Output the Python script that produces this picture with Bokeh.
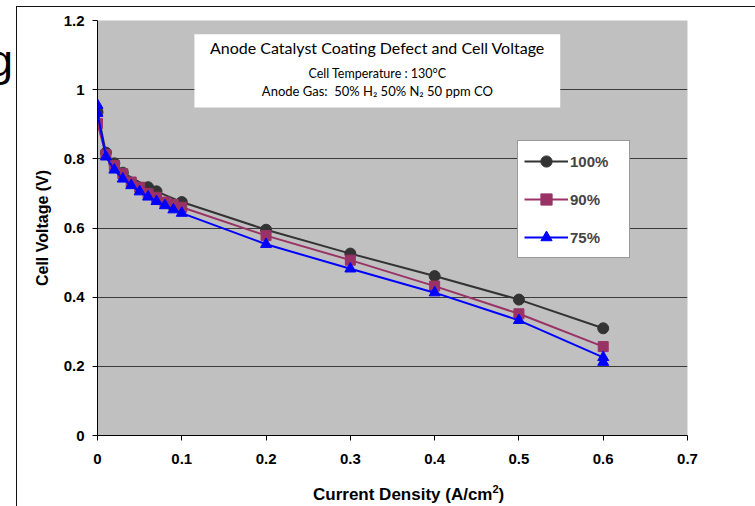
from bokeh.plotting import figure
from bokeh.models import (Legend, LegendItem, Label, BoxAnnotation, FixedTicker, Range1d,
                          Div, InlineStyleSheet)
from bokeh.layouts import column
from bokeh.embed import file_html
from bokeh.resources import INLINE

# Polarisation curves: current density (A/cm2) vs cell voltage (V)
current_100 = [0, 0.01, 0.02, 0.03, 0.06, 0.07, 0.1, 0.2, 0.3, 0.4, 0.5, 0.6]
voltage_100 = [0.935, 0.818, 0.787, 0.760, 0.718, 0.706, 0.675, 0.595, 0.526, 0.461, 0.393, 0.310]

current_90 = [0, 0.01, 0.02, 0.03, 0.04, 0.05, 0.06, 0.07, 0.08, 0.09, 0.1, 0.2, 0.3, 0.4, 0.5, 0.6]
voltage_90 = [0.902, 0.812, 0.781, 0.757, 0.733, 0.718, 0.700, 0.689, 0.675, 0.668, 0.660,
              0.578, 0.507, 0.432, 0.352, 0.257]

current_75 = [0, 0, 0.01, 0.02, 0.03, 0.04, 0.05, 0.06, 0.07, 0.08, 0.09, 0.1, 0.2, 0.3, 0.4, 0.5, 0.6, 0.6]
voltage_75 = [0.955, 0.932, 0.806, 0.768, 0.742, 0.723, 0.705, 0.690, 0.677, 0.665, 0.653, 0.643,
              0.553, 0.482, 0.413, 0.333, 0.226, 0.212]

series_names = ["100%", "90%", "75%"]

x_ticks = [0, 0.1, 0.2, 0.3, 0.4, 0.5, 0.6, 0.7]
x_tick_labels = ["0", "0.1", "0.2", "0.3", "0.4", "0.5", "0.6", "0.7"]
y_ticks = [0, 0.2, 0.4, 0.6, 0.8, 1.0, 1.2]
y_tick_labels = ["0", "0.2", "0.4", "0.6", "0.8", "1", "1.2"]

AXIS_FONT = "Liberation Sans"
BOX_FONT = "Lato"

# thin chart-area frame drawn over the canvas
frame_css = InlineStyleSheet(css="""
:host::after {
  content: "";
  position: absolute;
  left: 16px; top: 6px; right: -2px; bottom: -2px;
  border-left: 1px solid #111;
  border-top: 1px solid #111;
  pointer-events: none;
  z-index: 10;
}
""")

p = figure(width=755, height=506, output_backend="svg", toolbar_location=None,
           x_range=Range1d(0, 0.7), y_range=Range1d(0, 1.2),
           min_border_left=97, min_border_right=68, min_border_top=20, min_border_bottom=71)
p.stylesheets = [frame_css]
p.background_fill_color = "#C0C0C0"
p.border_fill_color = "white"
p.outline_line_color = None

# axes
p.xaxis.ticker = FixedTicker(ticks=x_ticks)
p.yaxis.ticker = FixedTicker(ticks=y_ticks)
p.xaxis.major_label_overrides = dict(zip(x_ticks, x_tick_labels))
p.yaxis.major_label_overrides = dict(zip(y_ticks, y_tick_labels))
for ax in (p.xaxis, p.yaxis):
    ax.axis_line_color = "black"
    ax.axis_line_width = 1
    ax.major_tick_line_color = "black"
    ax.major_tick_out = 5
    ax.major_tick_in = 0
    ax.minor_tick_line_color = None
    ax.major_label_text_font = AXIS_FONT
    ax.major_label_text_font_style = "bold"
    ax.major_label_text_font_size = "15px"
    ax.major_label_text_color = "black"
p.xaxis.major_label_standoff = 13
p.yaxis.major_label_standoff = 8

p.yaxis.axis_label = "Cell Voltage (V)"
p.yaxis.axis_label_text_font = AXIS_FONT
p.yaxis.axis_label_text_font_style = "bold"
p.yaxis.axis_label_text_font_size = "16px"
p.yaxis.axis_label_text_color = "black"
p.yaxis.axis_label_standoff = 10

p.xgrid.grid_line_color = None
p.ygrid.ticker = FixedTicker(ticks=y_ticks)
p.ygrid.grid_line_color = "#3a3a3a"
p.ygrid.grid_line_width = 1

# series
l1 = p.line(current_100, voltage_100, line_color="#333333", line_width=2)
m1 = p.scatter(current_100, voltage_100, marker="circle", size=11,
               fill_color="#333333", line_color="#333333")
l2 = p.line(current_90, voltage_90, line_color="#993366", line_width=2)
m2 = p.scatter(current_90, voltage_90, marker="square", size=10,
               fill_color="#993366", line_color="#993366")
l3 = p.line(current_75, voltage_75, line_color="#0000FF", line_width=2)
m3 = p.scatter(current_75, voltage_75, marker="triangle", size=11,
               fill_color="#0000FF", line_color="#0000FF")

legend = Legend(items=[LegendItem(label=series_names[0], renderers=[l1, m1]),
                       LegendItem(label=series_names[1], renderers=[l2, m2]),
                       LegendItem(label=series_names[2], renderers=[l3, m3])],
                location=(420, 177), padding=6, spacing=10, margin=0,
                glyph_width=44, glyph_height=28, label_height=28, label_width=53,
                label_standoff=2, border_line_color="#333333", border_line_width=1,
                background_fill_color="white", background_fill_alpha=1,
                label_text_font=AXIS_FONT, label_text_font_style="bold",
                label_text_font_size="15px")
p.add_layout(legend)

# chart caption box
p.add_layout(BoxAnnotation(left=0.115, right=0.549, top=1.160, bottom=0.9485,
                           fill_color="white", fill_alpha=1, line_alpha=0))
caption = [("Anode Catalyst Coating Defect and Cell Voltage", 1.1229, "16px"),
           ("Cell Temperature : 130\u00b0C", 1.0477, "12.5px"),
           ("Anode Gas:\u00a0 50% H\u2082 50% N\u2082 50 ppm CO", 0.9948, "13px")]
for txt, yy, fs in caption:
    p.add_layout(Label(x=0.3321, y=yy, text=txt, text_align="center", text_baseline="middle",
                       text_font=BOX_FONT, text_font_size=fs, text_color="black"))

# x-axis title, set a little right of the frame centre
x_title = Div(text="Current Density (A/cm<sup style='font-size:11px;line-height:0'>2</sup>)",
              styles={"position": "absolute", "left": "308px", "top": "481px",
                      "font-family": "Liberation Sans", "font-weight": "bold",
                      "font-size": "17px", "line-height": "1", "white-space": "nowrap",
                      "color": "black", "z-index": "5"})

# neighbouring page text, cut by the left edge
side_text = Div(text="g", styles={"position": "absolute", "left": "-17px", "top": "33px",
                                  "font-family": "Liberation Sans", "font-size": "45px",
                                  "line-height": "1", "color": "black", "z-index": "5"})

page = column(p, x_title, side_text, spacing=0)
open("out.html", "w").write(file_html(page, INLINE))
